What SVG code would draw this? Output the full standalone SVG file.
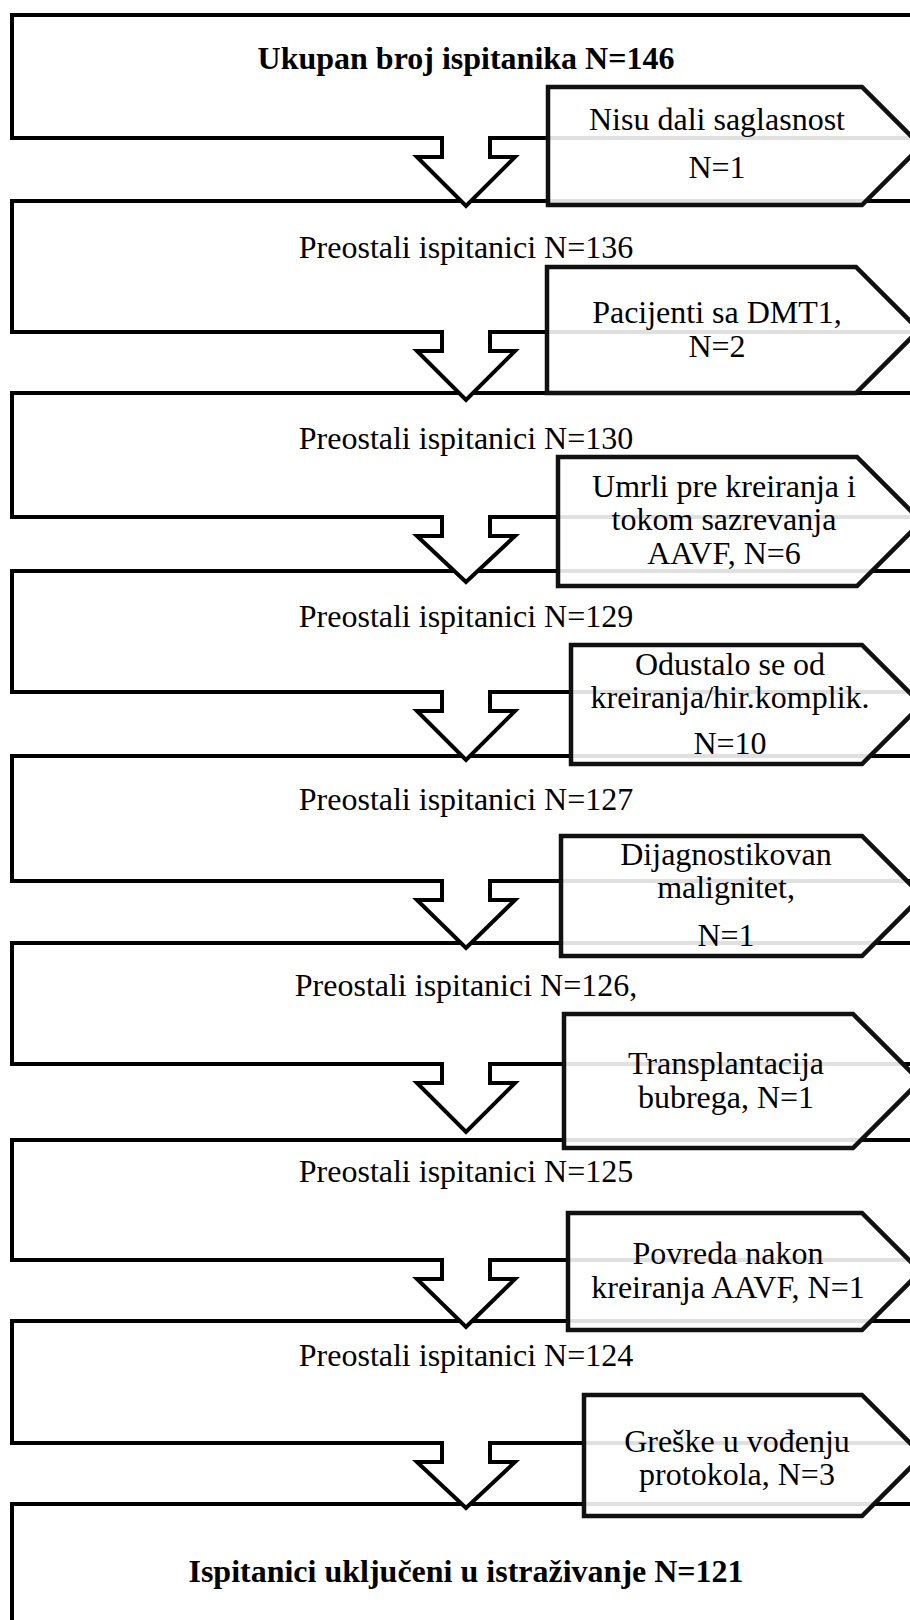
<svg xmlns="http://www.w3.org/2000/svg" width="910" height="1620" viewBox="0 0 910 1620">
<style>
.box{fill:#fff;stroke:#000;stroke-width:4;stroke-linejoin:miter}
.exc{fill:#fff;fill-opacity:0.88;stroke:#111;stroke-width:4.5;stroke-linejoin:miter}
.afill{fill:#fff;stroke:none}
.aline{fill:none;stroke:#000;stroke-width:4;stroke-linejoin:miter}
text{font-family:"Liberation Serif","Times New Roman",serif;font-size:32px;fill:#000;text-anchor:middle}
.b{font-weight:bold}
</style>
<rect width="910" height="1620" fill="#fff"/>
<g id="main-boxes">
<g id="box1"><rect class="box" x="12" y="15" width="1000" height="123"/><text class="b" x="466" y="69">Ukupan broj ispitanika N=146</text></g>
<g id="box2"><rect class="box" x="12" y="201" width="1000" height="131"/><text x="466" y="258">Preostali ispitanici N=136</text></g>
<g id="box3"><rect class="box" x="12" y="393" width="1000" height="124"/><text x="466" y="449">Preostali ispitanici N=130</text></g>
<g id="box4"><rect class="box" x="12" y="571" width="1000" height="121"/><text x="466" y="627">Preostali ispitanici N=129</text></g>
<g id="box5"><rect class="box" x="12" y="756" width="1000" height="125"/><text x="466" y="810">Preostali ispitanici N=127</text></g>
<g id="box6"><rect class="box" x="12" y="943" width="1000" height="121"/><text x="466" y="996">Preostali ispitanici N=126,</text></g>
<g id="box7"><rect class="box" x="12" y="1140" width="1000" height="120"/><text x="466" y="1182">Preostali ispitanici N=125</text></g>
<g id="box8"><rect class="box" x="12" y="1321" width="1000" height="122"/><text x="466" y="1366">Preostali ispitanici N=124</text></g>
<g id="box9"><rect class="box" x="12" y="1504" width="1000" height="200"/><text class="b" x="466" y="1582">Ispitanici uključeni u istraživanje N=121</text></g>
</g>
<g id="connectors">
<g id="arrow1"><polygon class="afill" points="442,135 442,157 417,157 466,206 515,157 490,157 490,135"/><polyline class="aline" points="430,138 442,138 442,157 417,157 466,206 515,157 490,157 490,138 502,138"/></g>
<g id="arrow2"><polygon class="afill" points="442,329 442,351 417,351 466,400 515,351 490,351 490,329"/><polyline class="aline" points="430,332 442,332 442,351 417,351 466,400 515,351 490,351 490,332 502,332"/></g>
<g id="arrow3"><polygon class="afill" points="442,514 442,536 417,536 466,582 515,536 490,536 490,514"/><polyline class="aline" points="430,517 442,517 442,536 417,536 466,582 515,536 490,536 490,517 502,517"/></g>
<g id="arrow4"><polygon class="afill" points="442,689 442,711 417,711 466,760 515,711 490,711 490,689"/><polyline class="aline" points="430,692 442,692 442,711 417,711 466,760 515,711 490,711 490,692 502,692"/></g>
<g id="arrow5"><polygon class="afill" points="442,878 442,900 417,900 466,948 515,900 490,900 490,878"/><polyline class="aline" points="430,881 442,881 442,900 417,900 466,948 515,900 490,900 490,881 502,881"/></g>
<g id="arrow6"><polygon class="afill" points="442,1061 442,1083 417,1083 466,1132 515,1083 490,1083 490,1061"/><polyline class="aline" points="430,1064 442,1064 442,1083 417,1083 466,1132 515,1083 490,1083 490,1064 502,1064"/></g>
<g id="arrow7"><polygon class="afill" points="442,1257 442,1279 417,1279 466,1327 515,1279 490,1279 490,1257"/><polyline class="aline" points="430,1260 442,1260 442,1279 417,1279 466,1327 515,1279 490,1279 490,1260 502,1260"/></g>
<g id="arrow8"><polygon class="afill" points="442,1440 442,1462 417,1462 466,1508 515,1462 490,1462 490,1440"/><polyline class="aline" points="430,1443 442,1443 442,1462 417,1462 466,1508 515,1462 490,1462 490,1443 502,1443"/></g>
</g>
<g id="exclusions">
<g id="ex1"><path class="exc" d="M548,87 L862,87 L921,146 L862,205 L548,205 Z"/><text x="717" y="130">Nisu dali saglasnost</text><text x="717" y="178">N=1</text></g>
<g id="ex2"><path class="exc" d="M547,267 L856,267 L919,330 L856,393 L547,393 Z"/><text x="717" y="323">Pacijenti sa DMT1,</text><text x="717" y="357">N=2</text></g>
<g id="ex3"><path class="exc" d="M558,457 L857,457 L921.5,521.5 L857,586 L558,586 Z"/><text x="724" y="497">Umrli pre kreiranja i</text><text x="724" y="530">tokom sazrevanja</text><text x="724" y="564">AAVF, N=6</text></g>
<g id="ex4"><path class="exc" d="M571,645 L862,645 L921.5,704.5 L862,764 L571,764 Z"/><text x="730" y="675">Odustalo se od</text><text x="730" y="708">kreiranja/hir.komplik.</text><text x="730" y="754">N=10</text></g>
<g id="ex5"><path class="exc" d="M561,836 L862,836 L922,896 L862,956 L561,956 Z"/><text x="726" y="865">Dijagnostikovan</text><text x="726" y="898">malignitet,</text><text x="726" y="946">N=1</text></g>
<g id="ex6"><path class="exc" d="M564,1014 L853,1014 L920,1081 L853,1148 L564,1148 Z"/><text x="726" y="1074">Transplantacija</text><text x="726" y="1108">bubrega, N=1</text></g>
<g id="ex7"><path class="exc" d="M568,1213 L862,1213 L920.5,1271.5 L862,1330 L568,1330 Z"/><text x="728" y="1264">Povreda nakon</text><text x="728" y="1298">kreiranja AAVF, N=1</text></g>
<g id="ex8"><path class="exc" d="M584,1395 L862,1395 L922.5,1455.5 L862,1516 L584,1516 Z"/><text x="737" y="1452">Greške u vođenju</text><text x="737" y="1485">protokola, N=3</text></g>
</g>
</svg>
